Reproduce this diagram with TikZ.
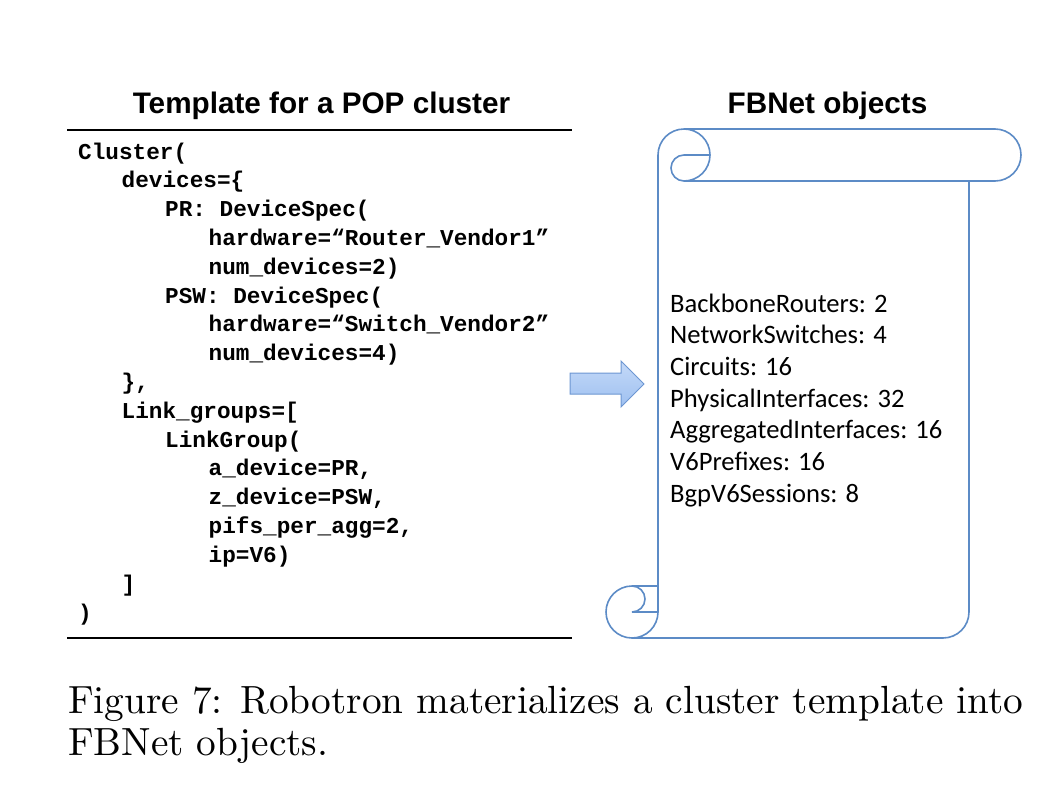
\documentclass[tikz,border=0pt]{standalone}
\usepackage{fontspec}
\usepackage{tikz}
\usetikzlibrary{calc}
\newfontfamily\headfont{Liberation Sans}
\newfontfamily\codefont{Liberation Mono}
\newfontfamily\listfont{Carlito}
\newfontfamily\capfont{lmroman10-regular}[Extension=.otf]
\definecolor{scrollblue}{RGB}{92,139,198}
\definecolor{arrowedge}{RGB}{108,150,210}
\definecolor{arrowtop}{RGB}{196,217,248}
\definecolor{arrowbot}{RGB}{158,192,240}
\tikzset{
  head/.style={anchor=base, inner sep=0pt, font=\headfont\bfseries\fontsize{29.7}{34}\selectfont},
  code/.style={anchor=base west, inner sep=0pt, font=\codefont\bfseries\fontsize{22.7}{28}\selectfont},
  obj/.style={anchor=base west, inner sep=0pt, font=\listfont\fontsize{26.6}{32}\selectfont},
  scroll/.style={scrollblue, line width=1.6pt}
}

\begin{document}
\begin{tikzpicture}[x=1pt,y=-1pt]
\useasboundingbox (0,0) rectangle (1062,798);
\node[head] (t1) at (321.5,113) {Template for a POP cluster};
\node[head] (t2) at (827.5,113) {FBNet objects};
\draw[black, line width=2.6pt] (67,130) -- (572,130);
\draw[black, line width=2.6pt] (67,638) -- (572,638);
\node[code] (c1) at (78,159) {Cluster(};
\node[code] (c2) at (121.5,187.8) {devices=\{};
\node[code] (c3) at (165,216.6) {PR: DeviceSpec(};
\node[code] (c4) at (208.5,245.4) {hardware=“Router\_Vendor1”};
\node[code] (c5) at (208.5,274.2) {num\_devices=2)};
\node[code] (c6) at (165,303) {PSW: DeviceSpec(};
\node[code] (c7) at (208.5,331.8) {hardware=“Switch\_Vendor2”};
\node[code] (c8) at (208.5,360.6) {num\_devices=4)};
\node[code] (c9) at (121.5,389.4) {\},};
\node[code] (c10) at (121.5,418.2) {Link\_groups=[};
\node[code] (c11) at (165,447) {LinkGroup(};
\node[code] (c12) at (208.5,475.8) {a\_device=PR,};
\node[code] (c13) at (208.5,504.6) {z\_device=PSW,};
\node[code] (c14) at (208.5,533.4) {pifs\_per\_agg=2,};
\node[code] (c15) at (208.5,562.2) {ip=V6)};
\node[code] (c16) at (121.5,591) {]};
\node[code] (c17) at (78,620) {)};
% block arrow
\draw[arrowedge, line width=1pt, top color=arrowtop, bottom color=arrowbot]
  (570,373) -- (621,373) -- (621,361) -- (644,384) -- (621,407) -- (621,394) -- (570,394) -- cycle;
% scroll
\draw[scroll] (658,612) -- (658,155) arc[start angle=180, end angle=450, radius=26]
  -- (995,181) arc[start angle=90, end angle=-90, radius=26] -- (684,129);
\draw[scroll] (710,155) -- (684,155) arc[start angle=-90, end angle=-270, radius=13];
\draw[scroll, rounded corners=26pt] (969,181) -- (969,638) -- (632,638);
\draw[scroll] (658,612) arc[start angle=0, end angle=270, radius=26] -- (658,586);
\draw[scroll] (632,586) arc[start angle=-90, end angle=90, radius=13] -- (658,612);
\node[obj] (o1) at (670,312) {BackboneRouters: 2};
\node[obj] (o2) at (670,343.7) {NetworkSwitches: 4};
\node[obj] (o3) at (670,375.4) {Circuits: 16};
\node[obj] (o4) at (670,407.1) {PhysicalInterfaces: 32};
\node[obj] (o5) at (670,438.8) {AggregatedInterfaces: 16};
\node[obj] (o6) at (670,470.5) {V6Prefixes: 16};
\node[obj] (o7) at (670,502.2) {BgpV6Sessions: 8};
\node[anchor=base west, inner sep=0pt, font=\capfont\fontsize{39.3}{42}\selectfont] (cap1) at (68,713) {Figure 7: Robotron materializes a cluster template into};
\node[anchor=base west, inner sep=0pt, font=\capfont\fontsize{39.3}{42}\selectfont] (cap2) at (68,755) {FBNet objects.};
\end{tikzpicture}
\end{document}
